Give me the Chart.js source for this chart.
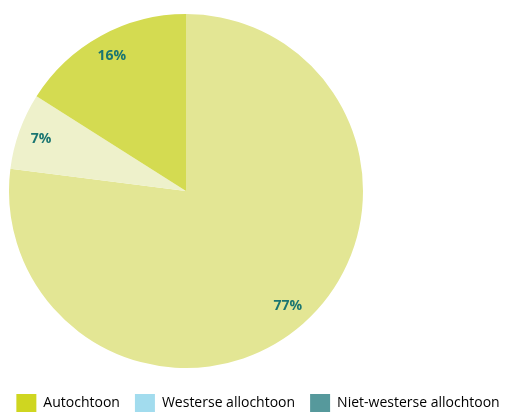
<!DOCTYPE html>
<html>
<head>
<meta charset="utf-8">
<script src="https://cdn.jsdelivr.net/npm/chart.js@4/dist/chart.umd.min.js"></script>
<style>
  html, body { margin: 0; padding: 0; background: #fff; }
  .wrap { width: 516px; height: 412px; position: relative; }
</style>
</head>
<body>
<div class="wrap"><canvas id="pie"></canvas></div>
<script>
// ---- data ----
const categories = ['Autochtoon', 'Westerse allochtoon', 'Niet-westerse allochtoon'];
const shares = [77, 7, 16];
const sliceColors = ['#e3e694', '#eef1cb', '#d4db51'];
const legendColors = ['#cfd620', '#a2dcee', '#56999c'];

const textColor = '#1f7a78';
const fontFamily = "'Open Sans', 'Noto Sans', sans-serif";

// pie sits left of centre, legend hugs the bottom edge across the full width
const pieBox = {
  id: 'pieBox',
  afterLayout(chart) {
    Object.assign(chart.chartArea, { left: 9, right: 363, top: 14, bottom: 368, width: 354, height: 354 });
    const lg = chart.legend;
    if (lg) { lg.top += 10; lg.bottom += 10; }
  }
};

// percent labels inside each slice
const sliceLabels = {
  id: 'sliceLabels',
  afterDatasetsDraw(chart) {
    const { ctx } = chart;
    const meta = chart.getDatasetMeta(0);
    ctx.save();
    ctx.font = `bold 14px ${fontFamily}`;
    ctx.fillStyle = '#1a7571';
    ctx.textAlign = 'center';
    ctx.textBaseline = 'middle';
    meta.data.forEach((arc, i) => {
      const p = arc.getProps(['x', 'y', 'startAngle', 'endAngle', 'outerRadius'], true);
      const mid = (p.startAngle + p.endAngle) / 2;
      const r = p.outerRadius * 0.87;
      ctx.fillText(shares[i] + '%', p.x + Math.cos(mid) * r, p.y + Math.sin(mid) * r);
    });
    ctx.restore();
  }
};

new Chart(document.getElementById('pie'), {
  type: 'pie',
  data: {
    labels: categories,
    datasets: [{ data: shares, backgroundColor: sliceColors, borderWidth: 0 }]
  },
  options: {
    responsive: true,
    maintainAspectRatio: false,
    animation: false,
    layout: { padding: 0 },
    plugins: {
      tooltip: { enabled: false },
      legend: {
        position: 'bottom',
        labels: {
          boxWidth: 20,
          boxHeight: 18,
          padding: 15,
          color: textColor,
          font: { family: fontFamily, size: 14 },
          generateLabels: chart => categories.map((c, i) => ({
            text: c, fillStyle: legendColors[i], strokeStyle: legendColors[i], lineWidth: 0, index: i
          }))
        }
      }
    }
  },
  plugins: [pieBox, sliceLabels]
});
</script>
</body>
</html>
